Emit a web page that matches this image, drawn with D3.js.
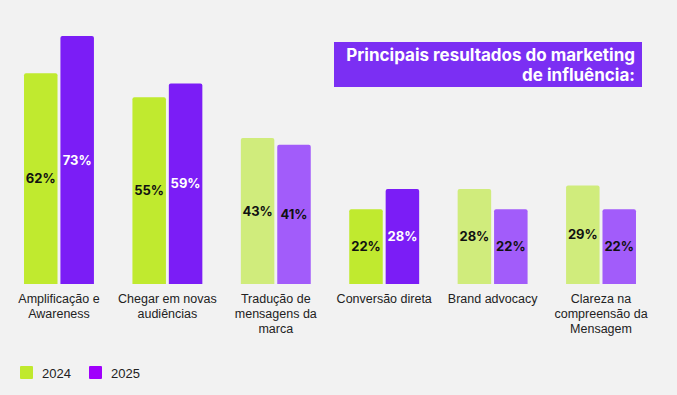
<!DOCTYPE html>
<html>
<head>
<meta charset="utf-8">
<script src="https://cdn.jsdelivr.net/npm/d3@7"></script>
<style>
  html, body { margin: 0; padding: 0; background: #f2f2f2; }
</style>
</head>
<body>
<div id="chart"></div>
<script>
const categories = [
  ['Amplificação e', 'Awareness'],
  ['Chegar em novas', 'audiências'],
  ['Tradução de', 'mensagens da', 'marca'],
  ['Conversão direta'],
  ['Brand advocacy'],
  ['Clareza na', 'compreensão da', 'Mensagem']
]
const years = ['2024', '2025']
const values2024 = [62, 55, 43, 22, 28, 29]
const values2025 = [73, 59, 41, 28, 22, 22]
const highlighted = [true, true, false, true, false, false]
const titleLines = ['Principais resultados do marketing', 'de influência:']

const WIDTH = 677
const HEIGHT = 395
const BASE = 284
const TOP = 36

const colors = {
  '2024': { on: '#c0ea2f', off: '#d0ec7c', legend: '#c0e92e' },
  '2025': { on: '#7b1df6', off: '#a25cfa', legend: '#a000fc' }
}

const svg = d3.select('#chart')
  .append('svg')
  .attr('width', WIDTH)
  .attr('height', HEIGHT)
  .style('font-family', 'Inter, Roboto, sans-serif')

svg.append('rect').attr('width', WIDTH).attr('height', HEIGHT).attr('fill', '#f2f2f2')

const x0 = d3.scaleBand()
  .domain(d3.range(categories.length))
  .range([4.5, 655.5])
  .paddingInner(0.355)
  .paddingOuter(0.18)

const x1 = d3.scaleBand()
  .domain(years)
  .range([0, x0.bandwidth()])
  .paddingInner(0.08)

const y = d3.scaleLinear().domain([0, 73]).range([BASE, TOP])

const rows = categories.map((c, i) => ({
  i,
  bars: [
    { year: '2024', value: values2024[i] },
    { year: '2025', value: values2025[i] }
  ]
}))

// rounded-top bar path
function barPath(x, y0, w, h, r) {
  return `M${x},${y0 + h}V${y0 + r}Q${x},${y0} ${x + r},${y0}H${x + w - r}Q${x + w},${y0} ${x + w},${y0 + r}V${y0 + h}Z`
}

const groups = svg.selectAll('g.grp')
  .data(rows)
  .join('g')
  .attr('class', 'grp')
  .attr('transform', d => `translate(${x0(d.i)},0)`)

groups.selectAll('path')
  .data(d => d.bars.map(b => ({ ...b, hi: highlighted[d.i] })))
  .join('path')
  .attr('d', d => barPath(x1(d.year), y(d.value), x1.bandwidth(), BASE - y(d.value), 2))
  .attr('fill', d => d.hi ? colors[d.year].on : colors[d.year].off)

groups.selectAll('text.val')
  .data(d => d.bars.map(b => ({ ...b, hi: highlighted[d.i] })))
  .join('text')
  .attr('class', 'val')
  .attr('x', d => x1(d.year) + x1.bandwidth() / 2)
  .attr('y', d => (y(d.value) + BASE) / 2)
  .attr('dy', '0.35em')
  .attr('text-anchor', 'middle')
  .style('font-size', '13px')
  .style('font-weight', 'bold')
  .attr('fill', d => (d.year === '2025' && d.hi) ? '#ffffff' : '#111111')
  .text(d => d.value + '%')

// category labels
groups.append('text')
  .attr('text-anchor', 'middle')
  .style('font-family', '"Liberation Sans", Arial, sans-serif')
  .style('font-size', '12.5px')
  .attr('fill', '#222')
  .selectAll('tspan')
  .data(d => categories[d.i])
  .join('tspan')
  .attr('x', x0.bandwidth() / 2)
  .attr('y', (d, i) => 303 + i * 15)
  .text(d => d)

// title box
svg.append('rect')
  .attr('x', 334)
  .attr('y', 42)
  .attr('width', 308)
  .attr('height', 45)
  .attr('fill', '#7b2ff3')

svg.append('text')
  .attr('text-anchor', 'end')
  .style('font-size', '17px')
  .style('font-weight', 'bold')
  .attr('fill', '#ffffff')
  .selectAll('tspan')
  .data(titleLines)
  .join('tspan')
  .attr('x', 635)
  .attr('y', (d, i) => 61 + i * 20)
  .text(d => d)

// legend
const legend = svg.selectAll('g.leg')
  .data(years)
  .join('g')
  .attr('class', 'leg')
  .attr('transform', (d, i) => `translate(${20 + i * 69},366)`)

legend.append('rect')
  .attr('width', 13)
  .attr('height', 13)
  .attr('rx', 1)
  .attr('fill', d => colors[d].legend)

legend.append('text')
  .attr('x', 22)
  .attr('y', 11.5)
  .style('font-family', '"Liberation Sans", Arial, sans-serif')
  .style('font-size', '13px')
  .attr('fill', '#222')
  .text(d => d)
</script>
</body>
</html>
